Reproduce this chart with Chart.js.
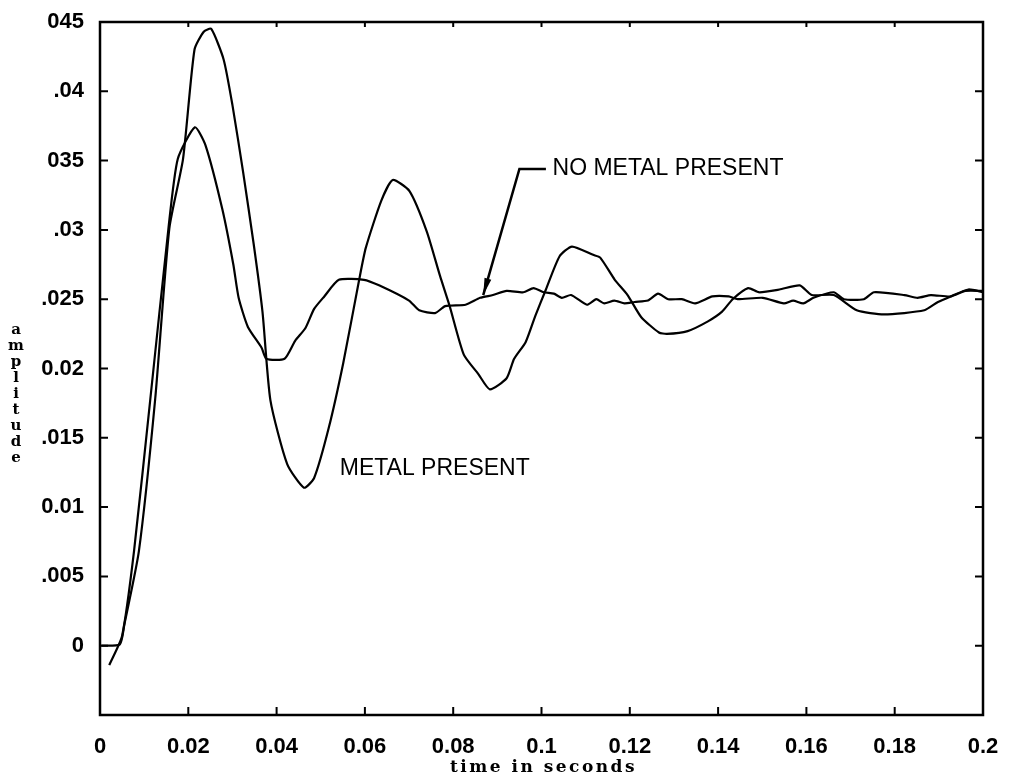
<!DOCTYPE html>
<html>
<head>
<meta charset="utf-8">
<script src="https://cdn.jsdelivr.net/npm/chart.js@4/dist/chart.umd.min.js"></script>
<style>
html, body { margin: 0; padding: 0; background: #fff; }
</style>
</head>
<body>
<canvas id="grafico" width="1015" height="781"></canvas>
<script>
// metal present (the strongly oscillating trace)
const timeMetal = [0.0003, 0.0045, 0.0055, 0.0088, 0.0125, 0.0157, 0.0188, 0.0214, 0.0235, 0.0252,
    0.0280, 0.0300, 0.0324, 0.0348, 0.0368, 0.0386, 0.0424, 0.0462, 0.0485, 0.0518,
    0.0551, 0.0587, 0.0602, 0.0637, 0.0663, 0.0701, 0.0740, 0.0770, 0.0792, 0.0824,
    0.0857, 0.0883, 0.0921, 0.0938, 0.0964, 0.0986, 0.1010, 0.1041, 0.1069, 0.1117,
    0.1133, 0.1166, 0.1195, 0.1226, 0.1266, 0.1284, 0.1331, 0.1377, 0.1409, 0.1433,
    0.1468, 0.1493, 0.1539, 0.1585, 0.1612, 0.1662, 0.1714, 0.1776, 0.1867, 0.1898,
    0.1927, 0.1967, 0.2000];
const ampMetal = [0, 0.0001, 0.0015, 0.0068, 0.0178, 0.0301, 0.0351, 0.0430, 0.0443, 0.0445,
    0.0423, 0.0390, 0.0342, 0.0290, 0.0241, 0.0177, 0.0131, 0.0114, 0.0121, 0.0157,
    0.0204, 0.0264, 0.0287, 0.0321, 0.0336, 0.0328, 0.0299, 0.0267, 0.0245, 0.0210,
    0.0196, 0.0185, 0.0193, 0.0207, 0.0219, 0.0238, 0.0257, 0.0281, 0.0288, 0.0282,
    0.0280, 0.0264, 0.0253, 0.0237, 0.0226, 0.0225, 0.0227, 0.0234, 0.0241, 0.0250,
    0.0258, 0.0255, 0.0257, 0.0260, 0.0253, 0.0253, 0.0242, 0.0239, 0.0242, 0.0248,
    0.0252, 0.0257, 0.0255];

// no metal present
const timeNoMetal = [0.0021, 0.0050, 0.0077, 0.0114, 0.0155, 0.0176, 0.0215, 0.0239, 0.0277, 0.0302,
    0.0314, 0.0335, 0.0366, 0.0377, 0.0418, 0.0442, 0.0465, 0.0485, 0.0508, 0.0541,
    0.0598, 0.0632, 0.0700, 0.0723, 0.0759, 0.0782, 0.0828, 0.0861, 0.0890, 0.0921,
    0.0959, 0.0982, 0.1005, 0.1028, 0.1046, 0.1067, 0.1103, 0.1124, 0.1142, 0.1165,
    0.1188, 0.1211, 0.1241, 0.1264, 0.1287, 0.1318, 0.1348, 0.1387, 0.1424, 0.1444,
    0.1501, 0.1549, 0.1570, 0.1593, 0.1616, 0.1662, 0.1685, 0.1730, 0.1753, 0.1822,
    0.1852, 0.1882, 0.1927, 0.1960, 0.2000];
const ampNoMetal = [-0.0014, 0.0007, 0.0068, 0.0178, 0.0301, 0.0351, 0.0374, 0.0361, 0.0315, 0.0275,
    0.0251, 0.0230, 0.0215, 0.0207, 0.0207, 0.0220, 0.0229, 0.0243, 0.0252, 0.0264,
    0.0264, 0.0260, 0.0249, 0.0242, 0.0240, 0.0245, 0.0246, 0.0251, 0.0253, 0.0256,
    0.0255, 0.0258, 0.0255, 0.0254, 0.0251, 0.0253, 0.0246, 0.0250, 0.0247, 0.0249,
    0.0247, 0.0248, 0.0249, 0.0254, 0.0250, 0.0250, 0.0247, 0.0252, 0.0252, 0.0250,
    0.0251, 0.0247, 0.0249, 0.0247, 0.0251, 0.0255, 0.0250, 0.0250, 0.0255, 0.0253,
    0.0251, 0.0253, 0.0252, 0.0256, 0.0256];

const xTickValues = [0, 0.02, 0.04, 0.06, 0.08, 0.1, 0.12, 0.14, 0.16, 0.18, 0.2];
const xTickLabels = ['0', '0.02', '0.04', '0.06', '0.08', '0.1', '0.12', '0.14', '0.16', '0.18', '0.2'];
const yTickValues = [0, 0.005, 0.01, 0.015, 0.02, 0.025, 0.03, 0.035, 0.04, 0.045];
const yTickLabels = ['0', '.005', '0.01', '.015', '0.02', '.025', '.03', '035', '.04', '045'];

const toPoints = (t, a) => t.map((v, i) => ({x: v, y: a[i]}));

const tickFont = {family: 'Liberation Sans', weight: 'bold', size: 22};

const frame = {
    id: 'frame',
    afterDatasetsDraw(chart) {
        const {ctx, chartArea: a, scales: {x, y}} = chart;
        ctx.save();
        ctx.strokeStyle = '#000';
        ctx.fillStyle = '#000';
        ctx.lineWidth = 2.5;
        ctx.strokeRect(a.left, a.top, a.right - a.left, a.bottom - a.top);

        // inward tick marks on all four sides
        ctx.lineWidth = 2;
        ctx.beginPath();
        for (const v of xTickValues) {
            const px = x.getPixelForValue(v);
            ctx.moveTo(px, a.bottom); ctx.lineTo(px, a.bottom - 8);
            ctx.moveTo(px, a.top); ctx.lineTo(px, a.top + 5);
        }
        for (const v of yTickValues) {
            const py = y.getPixelForValue(v);
            ctx.moveTo(a.left, py); ctx.lineTo(a.left + 8, py);
            ctx.moveTo(a.right, py); ctx.lineTo(a.right - 8, py);
        }
        ctx.stroke();

        // labels on the traces
        ctx.font = '23px "Liberation Sans"';
        ctx.textBaseline = 'middle';
        ctx.textAlign = 'left';
        ctx.fillText('NO METAL PRESENT', x.getPixelForValue(0.1025), y.getPixelForValue(0.0344));
        ctx.fillText('METAL PRESENT', x.getPixelForValue(0.0543), y.getPixelForValue(0.0128));

        // leader with arrow to the no-metal trace
        const x0 = x.getPixelForValue(0.101), yc = y.getPixelForValue(0.0344);
        const xc = x.getPixelForValue(0.095);
        const xt = x.getPixelForValue(0.0868), yt = y.getPixelForValue(0.0253);
        ctx.lineWidth = 2.5;
        ctx.beginPath();
        ctx.moveTo(x0, yc); ctx.lineTo(xc, yc); ctx.lineTo(xt, yt);
        ctx.stroke();
        const ang = Math.atan2(yt - yc, xt - xc);
        ctx.beginPath();
        ctx.moveTo(xt, yt);
        ctx.lineTo(xt - 17 * Math.cos(ang) - 3.5 * Math.sin(ang), yt - 17 * Math.sin(ang) + 3.5 * Math.cos(ang));
        ctx.lineTo(xt - 17 * Math.cos(ang) + 3.5 * Math.sin(ang), yt - 17 * Math.sin(ang) - 3.5 * Math.cos(ang));
        ctx.closePath();
        ctx.fill();

        // axis titles
        ctx.font = 'bold 17px "DejaVu Serif"';
        ctx.textAlign = 'center';
        ctx.letterSpacing = '2.5px';
        ctx.fillText('time in seconds', (a.left + a.right) / 2 + 2, 768);
        ctx.letterSpacing = '0px';
        ctx.font = 'bold 15px "DejaVu Serif"';
        const word = 'amplitude';
        for (let i = 0; i < word.length; i++) {
            ctx.fillText(word[i], 16, 330 + i * 16);
        }
        ctx.restore();
    }
};

const graphic = new Chart('grafico', {
    type: 'line',
    data: {
        datasets: [{
            label: 'METAL PRESENT',
            data: toPoints(timeMetal, ampMetal),
            borderColor: '#000',
            borderWidth: 2.2,
            pointRadius: 0,
            tension: 0.2,
            fill: false
        }, {
            label: 'NO METAL PRESENT',
            data: toPoints(timeNoMetal, ampNoMetal),
            borderColor: '#000',
            borderWidth: 2.2,
            pointRadius: 0,
            tension: 0.2,
            fill: false
        }]
    },
    options: {
        responsive: false,
        animation: false,
        devicePixelRatio: 1,
        layout: {padding: {top: 22, right: 32, left: 0, bottom: 0}},
        plugins: {legend: {display: false}, tooltip: {enabled: false}},
        scales: {
            x: {
                type: 'linear',
                min: 0,
                max: 0.2,
                afterBuildTicks: s => { s.ticks = xTickValues.map(v => ({value: v})); },
                afterFit: s => { s.height = 66; },
                ticks: {
                    callback: (v, i) => xTickLabels[i],
                    font: tickFont,
                    color: '#000',
                    padding: 11,
                    maxRotation: 0,
                    autoSkip: false
                },
                grid: {display: false},
                border: {display: false}
            },
            y: {
                type: 'linear',
                min: -0.005,
                max: 0.045,
                afterBuildTicks: s => { s.ticks = yTickValues.map(v => ({value: v})); },
                afterFit: s => { s.width = 100; },
                ticks: {
                    callback: (v, i) => yTickLabels[i],
                    font: tickFont,
                    color: '#000',
                    padding: 8,
                    autoSkip: false
                },
                grid: {display: false},
                border: {display: false}
            }
        }
    },
    plugins: [frame]
});
</script>
</body>
</html>
